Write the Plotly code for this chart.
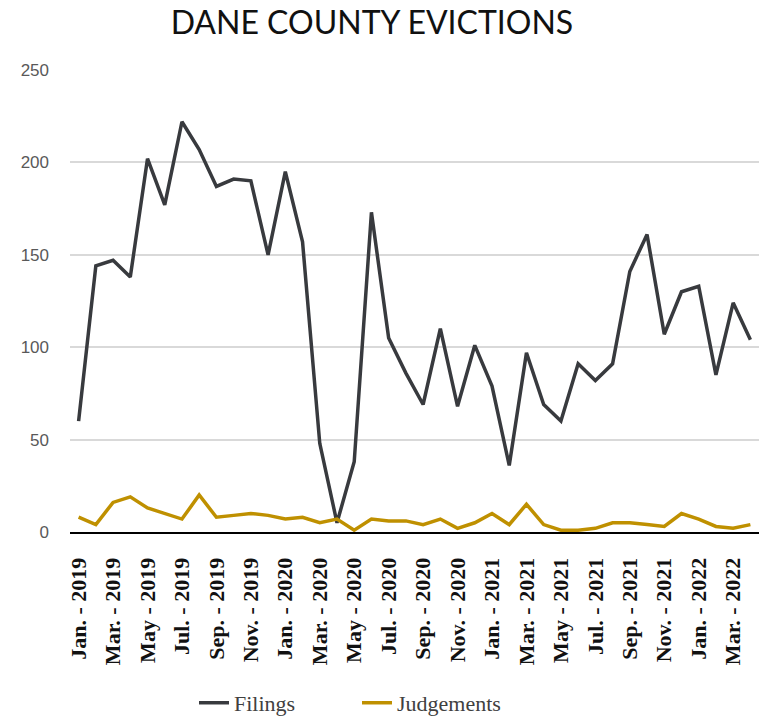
import plotly.graph_objects as go

# Monthly eviction counts, Jan. 2019 through Apr. 2022
month_names = ["Jan.", "Feb.", "Mar.", "Apr.", "May", "Jun.",
               "Jul.", "Aug.", "Sep.", "Oct.", "Nov.", "Dec."]
months = [f"{month_names[m]} - {y}" for y in (2019, 2020, 2021, 2022) for m in range(12)][:40]

filings = [60, 144, 147, 138, 202, 177, 222, 207, 187, 191,
           190, 150, 195, 157, 48, 5, 38, 173, 105, 86,
           69, 110, 68, 101, 79, 36, 97, 69, 60, 91,
           82, 91, 141, 161, 107, 130, 133, 85, 124, 104]

judgements = [8, 4, 16, 19, 13, 10, 7, 20, 8, 9,
              10, 9, 7, 8, 5, 7, 1, 7, 6, 6,
              4, 7, 2, 5, 10, 4, 15, 4, 1, 1,
              2, 5, 5, 4, 3, 10, 7, 3, 2, 4]

tick_labels = months[::2]

fig = go.Figure()
fig.add_trace(go.Scatter(x=months, y=filings, name="Filings", mode="lines",
                         line=dict(color="#383a3e", width=3.5)))
fig.add_trace(go.Scatter(x=months, y=judgements, name="Judgements", mode="lines",
                         line=dict(color="#bf9000", width=3.5)))

fig.update_layout(
    width=759, height=717,
    margin=dict(l=70, r=0, t=70, b=185, autoexpand=False),
    paper_bgcolor="white", plot_bgcolor="white",
    font=dict(family="Liberation Serif, serif"),
    title=dict(text="DANE COUNTY EVICTIONS", x=0.49, xanchor="center",
               y=0.968, yanchor="middle",
               font=dict(family="Lato", size=32, color="#111111")),
    legend=dict(orientation="h", x=0.18, xanchor="left", y=-0.37, yanchor="middle",
                entrywidth=118, entrywidthmode="pixels",
                font=dict(family="Liberation Serif, serif", size=22, color="#404040")),
    showlegend=True,
)
fig.update_xaxes(type="category", tickvals=tick_labels,
                 ticktext=[f"<b>{t}</b>" for t in tick_labels],
                 tickangle=-90, showgrid=False, showline=True, linecolor="black",
                 linewidth=2, ticks="", ticklabelstandoff=15, automargin=False,
                 tickfont=dict(family="Liberation Serif", size=22, color="#111111"),
                 range=[-0.5, 39.5])
fig.update_yaxes(range=[0, 250], tickvals=[0, 50, 100, 150, 200, 250],
                 showgrid=True, gridcolor="#d9d9d9", gridwidth=1.5,
                 zeroline=False, showline=False, ticks="", ticklabelstandoff=20,
                 automargin=False,
                 tickfont=dict(family="Liberation Sans", size=17, color="#595959"))

fig.write_html("out.html")
